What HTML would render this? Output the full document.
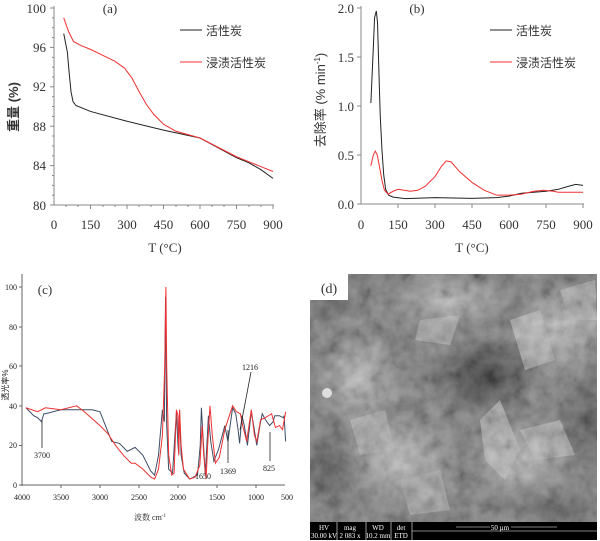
<!DOCTYPE html>
<html><head><meta charset="utf-8"><style>
html,body{margin:0;padding:0;background:#fff;}
svg{display:block;}
text{font-family:"Liberation Serif","Noto Serif CJK SC",serif;}
.s{font-family:"Liberation Sans","Noto Sans CJK SC",sans-serif;}
</style></head><body>
<svg width="600" height="541" viewBox="0 0 600 541" xmlns="http://www.w3.org/2000/svg">
<defs>
<radialGradient id="dk" cx="0.5" cy="0.5" r="0.5"><stop offset="0" stop-color="#101010" stop-opacity="1"/><stop offset="0.6" stop-color="#202020" stop-opacity="0.6"/><stop offset="1" stop-color="#202020" stop-opacity="0"/></radialGradient>
<radialGradient id="lt" cx="0.5" cy="0.5" r="0.5"><stop offset="0" stop-color="#c4c4c4" stop-opacity="0.85"/><stop offset="1" stop-color="#c4c4c4" stop-opacity="0"/></radialGradient>
<clipPath id="sem"><rect x="310" y="274" width="287" height="248"/></clipPath>
<filter id="tex" x="0" y="0" width="1" height="1">
<feTurbulence type="fractalNoise" baseFrequency="0.07" numOctaves="3" seed="7"/>
<feColorMatrix type="matrix" values="0.6 0.6 0.6 0 -0.4  0.6 0.6 0.6 0 -0.4  0.6 0.6 0.6 0 -0.4  0 0 0 0 0.35"/>
</filter>
</defs>

<!-- Panel (a) -->
<g stroke="#888" stroke-width="1" fill="none">
<line x1="54" y1="6" x2="54" y2="205"/>
<line x1="54" y1="205" x2="274" y2="205"/>
</g>
<g stroke="#888" stroke-width="1">
<line x1="54" y1="8" x2="50" y2="8"/><line x1="54" y1="47.4" x2="50" y2="47.4"/><line x1="54" y1="86.8" x2="50" y2="86.8"/><line x1="54" y1="126.2" x2="50" y2="126.2"/><line x1="54" y1="165.6" x2="50" y2="165.6"/><line x1="54" y1="205" x2="50" y2="205"/>
<line x1="54" y1="17.9" x2="52" y2="17.9"/><line x1="54" y1="27.7" x2="52" y2="27.7"/><line x1="54" y1="37.6" x2="52" y2="37.6"/><line x1="54" y1="57.3" x2="52" y2="57.3"/><line x1="54" y1="67.1" x2="52" y2="67.1"/><line x1="54" y1="77" x2="52" y2="77"/><line x1="54" y1="96.7" x2="52" y2="96.7"/><line x1="54" y1="106.5" x2="52" y2="106.5"/><line x1="54" y1="116.4" x2="52" y2="116.4"/><line x1="54" y1="136" x2="52" y2="136"/><line x1="54" y1="146" x2="52" y2="146"/><line x1="54" y1="155.8" x2="52" y2="155.8"/><line x1="54" y1="175.5" x2="52" y2="175.5"/><line x1="54" y1="185.3" x2="52" y2="185.3"/><line x1="54" y1="195.2" x2="52" y2="195.2"/>
<line x1="90.5" y1="205" x2="90.5" y2="209"/><line x1="127" y1="205" x2="127" y2="209"/><line x1="163.5" y1="205" x2="163.5" y2="209"/><line x1="200" y1="205" x2="200" y2="209"/><line x1="236.5" y1="205" x2="236.5" y2="209"/><line x1="273" y1="205" x2="273" y2="209"/>
<line x1="66" y1="205" x2="66" y2="207"/><line x1="78" y1="205" x2="78" y2="207"/><line x1="103" y1="205" x2="103" y2="207"/><line x1="115" y1="205" x2="115" y2="207"/><line x1="139" y1="205" x2="139" y2="207"/><line x1="151" y1="205" x2="151" y2="207"/><line x1="176" y1="205" x2="176" y2="207"/><line x1="188" y1="205" x2="188" y2="207"/><line x1="212" y1="205" x2="212" y2="207"/><line x1="224" y1="205" x2="224" y2="207"/><line x1="249" y1="205" x2="249" y2="207"/><line x1="261" y1="205" x2="261" y2="207"/>
</g>
<g font-size="13" fill="#333" text-anchor="end">
<text x="46" y="13">100</text><text x="46" y="52">96</text><text x="46" y="91">92</text><text x="46" y="131">88</text><text x="46" y="170">84</text><text x="46" y="210">80</text>
</g>
<g font-size="13" fill="#333" text-anchor="middle">
<text x="54" y="229">0</text><text x="90.5" y="229">150</text><text x="127" y="229">300</text><text x="163.5" y="229">450</text><text x="200" y="229">600</text><text x="236.5" y="229">750</text><text x="273" y="229">900</text>
<text x="165" y="252">T (°C)</text>
<text x="110" y="13">(a)</text>
</g>
<text class="s" transform="translate(18,107) rotate(-90)" font-size="13" fill="#333" text-anchor="middle" font-weight="bold">重量 (%)</text>
<g transform="matrix(0.2433 0 0 -9.85 54 993)" fill="none">
<polyline vector-effect="non-scaling-stroke" stroke="#222" stroke-width="1" points="40,97.4 55,95.5 62,93.5 70,91.5 78,90.5 90,90.1 150,89.5 300,88.5 450,87.6 600,86.8 750,84.8 800,84.3 850,83.6 900,82.7"/>
<polyline vector-effect="non-scaling-stroke" stroke="#f03030" stroke-width="1" points="40,99 60,97.6 80,96.6 110,96.2 150,95.8 200,95.2 250,94.6 290,93.9 320,92.9 350,91.5 380,90.2 410,89.2 450,88.2 500,87.5 600,86.8 750,84.9 850,83.9 900,83.4"/>
</g>
<line x1="180" y1="30" x2="202" y2="30" stroke="#222"/>
<line x1="180" y1="62" x2="202" y2="62" stroke="#f03030"/>
<text class="s" x="206" y="35" font-size="12" fill="#333">活性炭</text>
<text class="s" x="206" y="67" font-size="12" fill="#333">浸渍活性炭</text>

<!-- Panel (b) -->
<g stroke="#888" stroke-width="1" fill="none">
<line x1="361" y1="6" x2="361" y2="204"/>
<line x1="361" y1="204" x2="584" y2="204"/>
</g>
<g stroke="#888" stroke-width="1">
<line x1="361" y1="8" x2="357" y2="8"/><line x1="361" y1="57" x2="357" y2="57"/><line x1="361" y1="106" x2="357" y2="106"/><line x1="361" y1="155" x2="357" y2="155"/><line x1="361" y1="204" x2="357" y2="204"/>
<line x1="398" y1="204" x2="398" y2="208"/><line x1="435" y1="204" x2="435" y2="208"/><line x1="472" y1="204" x2="472" y2="208"/><line x1="509" y1="204" x2="509" y2="208"/><line x1="546" y1="204" x2="546" y2="208"/><line x1="583" y1="204" x2="583" y2="208"/>
</g>
<g font-size="13" fill="#333" text-anchor="end">
<text x="354" y="13">2.0</text><text x="354" y="62">1.5</text><text x="354" y="111">1.0</text><text x="354" y="160">0.5</text><text x="354" y="209">0.0</text>
</g>
<g font-size="13" fill="#333" text-anchor="middle">
<text x="361" y="229">0</text><text x="398" y="229">150</text><text x="435" y="229">300</text><text x="472" y="229">450</text><text x="509" y="229">600</text><text x="546" y="229">750</text><text x="583" y="229">900</text>
<text x="472" y="252">T (°C)</text>
<text x="417" y="13">(b)</text>
</g>
<text class="s" transform="translate(325,100) rotate(-90)" font-size="13" fill="#333" text-anchor="middle">去除率 (% min<tspan font-size="8" dy="-5">-1</tspan><tspan dy="5">)</tspan></text>
<g transform="matrix(0.2467 0 0 -98 361 204)" fill="none">
<polyline vector-effect="non-scaling-stroke" stroke="#222" stroke-width="1" points="40,1.03 50,1.6 55,1.9 62,1.97 67,1.85 72,1.4 78,0.9 85,0.55 92,0.3 100,0.15 112,0.09 130,0.07 180,0.055 300,0.065 450,0.058 550,0.065 600,0.08 650,0.11 700,0.12 750,0.13 800,0.15 840,0.18 870,0.2 900,0.19"/>
<polyline vector-effect="non-scaling-stroke" stroke="#f03030" stroke-width="1" points="40,0.39 50,0.5 58,0.54 66,0.5 75,0.38 85,0.24 95,0.14 110,0.1 130,0.13 150,0.15 175,0.14 200,0.13 230,0.14 260,0.18 300,0.28 325,0.38 345,0.44 365,0.43 400,0.33 450,0.22 500,0.14 550,0.09 600,0.09 650,0.1 700,0.13 740,0.14 780,0.13 800,0.12 900,0.12"/>
</g>
<line x1="490" y1="30" x2="512" y2="30" stroke="#222"/>
<line x1="490" y1="62" x2="512" y2="62" stroke="#f03030"/>
<text class="s" x="516" y="35" font-size="12" fill="#333">活性炭</text>
<text class="s" x="516" y="67" font-size="12" fill="#333">浸渍活性炭</text>

<!-- Panel (c) -->
<g stroke="#666" stroke-width="1" fill="none">
<line x1="22" y1="274" x2="22" y2="486"/>
<line x1="22" y1="485" x2="285" y2="485"/>
</g>
<g stroke="#666" stroke-width="1">
<line x1="22" y1="287" x2="19" y2="287"/><line x1="22" y1="327" x2="19" y2="327"/><line x1="22" y1="366" x2="19" y2="366"/><line x1="22" y1="406" x2="19" y2="406"/><line x1="22" y1="445.5" x2="19" y2="445.5"/><line x1="22" y1="485" x2="19" y2="485"/>
<line x1="61" y1="485" x2="61" y2="488"/><line x1="100" y1="485" x2="100" y2="488"/><line x1="139" y1="485" x2="139" y2="488"/><line x1="178" y1="485" x2="178" y2="488"/><line x1="217" y1="485" x2="217" y2="488"/><line x1="256" y1="485" x2="256" y2="488"/>
</g>
<g class="s" font-size="8" fill="#222" text-anchor="end">
<text x="17" y="290">100</text><text x="17" y="330">80</text><text x="17" y="369">60</text><text x="17" y="409">40</text><text x="17" y="448">20</text><text x="17" y="488">0</text>
</g>
<g class="s" font-size="8" fill="#222" text-anchor="middle">
<text x="22" y="500">4000</text><text x="61" y="500">3500</text><text x="100" y="500">3000</text><text x="139" y="500">2500</text><text x="178" y="500">2000</text><text x="217" y="500">1500</text><text x="256" y="500">1000</text><text x="287" y="500">500</text>
<text x="150" y="520">波数 cm<tspan font-size="5" dy="-3">-1</tspan></text>
</g>
<text class="s" transform="translate(8,385) rotate(-90)" font-size="8" fill="#222" text-anchor="middle">透光率%</text>
<text x="45" y="294" font-size="13" fill="#333" text-anchor="middle">(c)</text>
<g transform="matrix(-0.078 0 0 -1.98 334 485)" fill="none">
<polyline vector-effect="non-scaling-stroke" stroke="#3d4e66" stroke-width="1" points="3950,39 3850,35 3800,34 3750,32 3720,36 3700,36 3500,38 3300,38 3100,38 3000,37 2950,32 2900,27 2850,22 2750,21 2650,17 2550,19 2450,15 2350,7 2300,5 2250,15 2200,38 2175,32 2160,95 2145,30 2120,8 2070,6 2020,37 2000,20 1990,16 1980,38 1960,15 1920,6 1850,3 1750,5 1715,20 1700,39 1680,25 1650,5 1610,35 1580,22 1540,12 1480,18 1400,30 1360,22 1300,39 1260,36 1230,28 1210,21 1180,35 1150,30 1110,20 1060,37 1030,30 990,20 950,30 920,36 880,33 825,30 780,32 760,35 700,35 650,34 640,35 620,22"/>
<polyline vector-effect="non-scaling-stroke" stroke="#f03030" stroke-width="1" points="3950,39 3800,37 3700,39 3500,38 3300,40 3200,37 3000,30 2900,26 2800,20 2700,15 2600,11 2550,11 2450,8 2350,4 2300,3 2250,8 2200,25 2170,60 2155,100 2145,60 2120,15 2080,5 2050,6 2020,38 2000,35 1990,15 1980,38 1960,20 1930,8 1850,3 1780,4 1720,10 1690,30 1670,15 1640,3 1620,20 1590,40 1560,25 1520,11 1470,14 1400,28 1300,40 1250,37 1200,36 1170,30 1120,22 1060,38 1020,25 990,22 940,33 880,34 800,36 750,29 700,30 660,28 620,37"/>
</g>
<g stroke="#222" stroke-width="0.8" fill="none">
<line x1="42" y1="420" x2="42" y2="448"/>
<line x1="228" y1="430" x2="228" y2="463"/>
<line x1="251" y1="372" x2="240" y2="430"/>
<line x1="270" y1="432" x2="270" y2="461"/>
</g>
<g class="s" font-size="8" fill="#222" text-anchor="middle">
<text x="42" y="458">3700</text><text x="228" y="474">1369</text><text x="203" y="479">1650</text><text x="250" y="370">1216</text><text x="269" y="471">825</text>
</g>

<!-- Panel (d) SEM -->
<rect x="310" y="274" width="287" height="248" fill="#686868"/>
<g clip-path="url(#sem)">
<ellipse cx="400" cy="460" rx="60" ry="50" fill="url(#lt)"/>
<ellipse cx="360" cy="380" rx="45" ry="50" fill="url(#lt)"/>
<ellipse cx="560" cy="330" rx="50" ry="50" fill="url(#lt)"/>
<ellipse cx="520" cy="460" rx="55" ry="40" fill="url(#lt)"/>
<ellipse cx="450" cy="300" rx="60" ry="30" fill="url(#lt)"/>
<ellipse cx="485" cy="375" rx="55" ry="42" fill="url(#dk)"/>
<ellipse cx="330" cy="470" rx="30" ry="40" fill="url(#dk)" opacity="0.6"/>
<ellipse cx="585" cy="420" rx="25" ry="50" fill="url(#dk)" opacity="0.6"/>
<ellipse cx="330" cy="300" rx="25" ry="25" fill="url(#dk)" opacity="0.5"/>
<ellipse cx="560" cy="510" rx="40" ry="20" fill="url(#dk)" opacity="0.5"/>
<polygon points="480,420 500,400 520,450 505,480 485,460" fill="#b0b0b0" opacity="0.75"/>
<polygon points="510,320 540,310 555,360 525,370" fill="#b4b4b4" opacity="0.75"/>
<polygon points="350,420 385,410 395,450 360,455" fill="#a8a8a8" opacity="0.7"/>
<polygon points="520,430 560,420 575,455 535,460" fill="#b0b0b0" opacity="0.7"/>
<polygon points="420,320 460,315 450,345 415,340" fill="#aaa" opacity="0.7"/>
<polygon points="400,480 440,470 450,510 410,515" fill="#a0a0a0" opacity="0.7"/>
<polygon points="560,290 595,280 597,320 570,320" fill="#a5a5a5" opacity="0.7"/>
<rect x="310" y="274" width="287" height="248" filter="url(#tex)"/>
<circle cx="327" cy="393" r="5" fill="#ddd"/>
</g>
<rect x="310" y="274" width="38" height="26" fill="#fff"/>
<text x="329" y="293" font-size="14" fill="#333" text-anchor="middle">(d)</text>
<rect x="310" y="522" width="287" height="18" fill="#000"/>
<g class="s" font-size="7" fill="#fff" text-anchor="middle">
<text x="324" y="530">HV</text><text x="350" y="530">mag</text><text x="378" y="530">WD</text><text x="401" y="530">det</text>
<text x="324" y="538">30.00 kV</text><text x="350" y="538">2 083 x</text><text x="378" y="538">10.2 mm</text><text x="401" y="538">ETD</text>
<text x="500" y="530">50 µm</text>
</g>
<g stroke="#fff" stroke-width="0.6">
<line x1="337" y1="522" x2="337" y2="540"/><line x1="366" y1="522" x2="366" y2="540"/><line x1="391" y1="522" x2="391" y2="540"/><line x1="412" y1="522" x2="412" y2="540"/>
<line x1="412" y1="531" x2="597" y2="531"/>
<line x1="456" y1="527" x2="490" y2="527"/><line x1="511" y1="527" x2="557" y2="527"/>
</g>
</svg>
</body></html>
